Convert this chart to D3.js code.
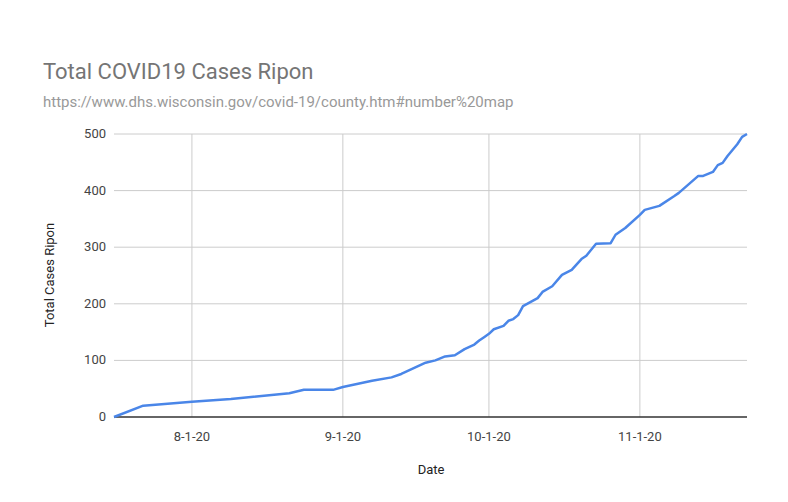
<!DOCTYPE html>
<html><head><meta charset="utf-8">
<script src="https://cdn.jsdelivr.net/npm/d3@7"></script>
<style>body{margin:0;background:#fff;font-family:Roboto,Arial,sans-serif}</style>
</head><body><svg id="chart" width="788" height="502"></svg>
<script>
var dates = ["2020-07-16","2020-07-22","2020-08-01","2020-08-09","2020-08-21","2020-08-24","2020-08-30","2020-09-01","2020-09-07","2020-09-11","2020-09-13","2020-09-18","2020-09-20","2020-09-22","2020-09-24","2020-09-26","2020-09-28","2020-09-29","2020-09-30","2020-10-01","2020-10-02","2020-10-04","2020-10-05","2020-10-06","2020-10-07","2020-10-08","2020-10-11","2020-10-12","2020-10-14","2020-10-16","2020-10-18","2020-10-20","2020-10-21","2020-10-23","2020-10-26","2020-10-27","2020-10-29","2020-11-01","2020-11-02","2020-11-05","2020-11-08","2020-11-09","2020-11-13","2020-11-14","2020-11-16","2020-11-17","2020-11-18","2020-11-19","2020-11-21","2020-11-22","2020-11-23"];
var cases = [0,20,27,32,42,48,48,53,64,70,76,96,100,107,109,120,128,135,141,147,155,161,170,173,180,196,210,221,231,251,260,279,285,306,307,322,334,357,366,373,390,396,426,426,433,445,449,461,482,495,500];
var xTicks = ["2020-08-01","2020-09-01","2020-10-01","2020-11-01"];
var yTicks = [0,100,200,300,400,500];

var parse = d3.timeParse("%Y-%m-%d");
var fmt = function(d){ return (d.getMonth()+1)+"-"+d.getDate()+"-"+String(d.getFullYear()).slice(2); };
var data = dates.map(function(d,i){ return {date:parse(d), v:cases[i]}; });

var svg = d3.select("#chart");
var pLeft=114, pRight=747, pTop=134, pBottom=417;
var x = d3.scaleTime().domain([parse("2020-07-16"), parse("2020-11-23")]).range([pLeft,pRight]);
var y = d3.scaleLinear().domain([0,500]).range([pBottom,pTop]);

// grid
svg.selectAll(".hg").data(yTicks.slice(1)).enter().append("line")
  .attr("x1",pLeft).attr("x2",pRight).attr("y1",d=>y(d)).attr("y2",d=>y(d))
  .style("stroke","#cccccc").style("stroke-width",1);
svg.selectAll(".vg").data(xTicks).enter().append("line")
  .attr("x1",d=>x(parse(d))).attr("x2",d=>x(parse(d))).attr("y1",pTop).attr("y2",pBottom)
  .style("stroke","#cccccc").style("stroke-width",1);

svg.append("line").attr("x1",pLeft).attr("x2",pRight).attr("y1",pBottom).attr("y2",pBottom)
  .style("stroke","#333").style("stroke-width",1.5);

svg.selectAll(".yl").data(yTicks).enter().append("text")
  .attr("x",106).attr("y",d=>y(d)+4).attr("text-anchor","end")
  .attr("font-size",13).style("fill","#444").text(d=>d);
svg.selectAll(".xl").data(xTicks).enter().append("text")
  .attr("x",d=>x(parse(d))).attr("y",441).attr("text-anchor","middle")
  .attr("font-size",13).style("fill","#444").text(d=>fmt(parse(d)));

svg.append("path").datum(data)
  .attr("d", d3.line().x(d=>x(d.date)).y(d=>y(d.v)))
  .style("fill","none").style("stroke","#4a86e8").style("stroke-width",2.5)
  .style("stroke-linejoin","round");

svg.append("text").attr("x",43).attr("y",79).attr("font-size",22)
  .style("fill","#757575").text("Total COVID19 Cases Ripon");
svg.append("text").attr("x",43).attr("y",107).attr("font-size",15)
  .style("fill","#999").text("https://www.dhs.wisconsin.gov/covid-19/county.htm#number%20map");
svg.append("text").attr("transform","translate(54,275) rotate(-90)")
  .attr("text-anchor","middle").attr("font-size",13).style("fill","#222").text("Total Cases Ripon");
svg.append("text").attr("x",431).attr("y",474).attr("text-anchor","middle")
  .attr("font-size",13).style("fill","#222").text("Date");
</script></body></html>
